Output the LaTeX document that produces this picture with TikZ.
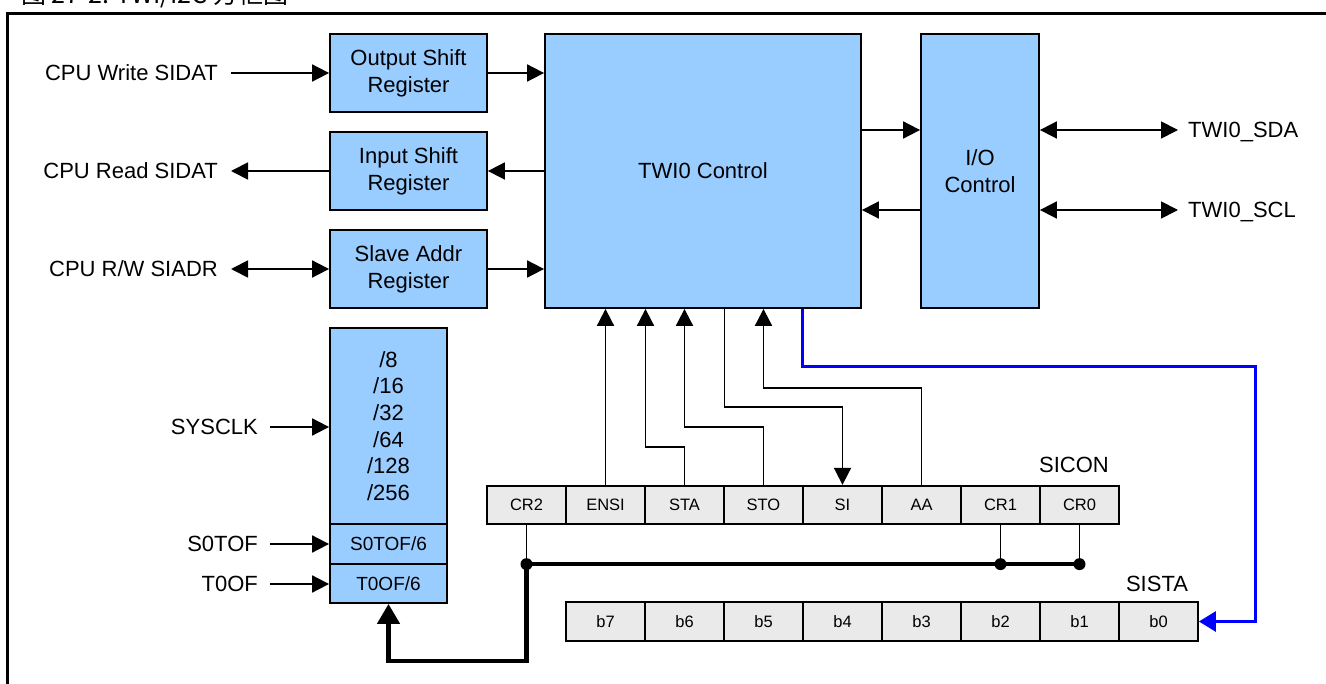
\documentclass[tikz,border=0pt]{standalone}
\usepackage{fontspec}
\setmainfont{Liberation Sans}
\newfontfamily\cjkfont{Noto Sans CJK SC}
\usepackage{tikz}
\usetikzlibrary{positioning, arrows.meta, calc}
\definecolor{boxblue}{RGB}{153,204,255}
\definecolor{cellgray}{RGB}{234,234,234}

\begin{document}
\begin{tikzpicture}[
    x=1pt, y=-1pt,
    font=\fontsize{22}{27}\selectfont,
    blk/.style={draw=black, line width=1.8pt, fill=boxblue, inner sep=0pt, align=center},
    cell/.style={draw=black, line width=1.8pt, fill=cellgray, minimum width=79pt, minimum height=38.5pt, inner sep=0pt, font=\fontsize{16.5}{20}\selectfont},
    lbl/.style={inner sep=0pt, text height=15.8pt, text depth=0pt},
    wire/.style={line width=1.8pt},
    sig/.style={wire, -{Triangle[length=17pt,width=17pt]}},
    dsig/.style={wire, {Triangle[length=17pt,width=17pt]}-{Triangle[length=17pt,width=17pt]}},
    stat/.style={draw=blue, line width=3pt, -{Triangle[length=17pt,width=20pt]}},
    bus/.style={line width=4.5pt},
    dot/.style={circle, fill=black, inner sep=0pt, minimum size=12pt}
]
\useasboundingbox (0,0) rectangle (1326,684);
% frame and caption
\draw[line width=3pt] (7,700) -- (7,13.5) -- (1340,13.5);
\node[anchor=base west, inner sep=0pt, font=\fontsize{25}{30}\selectfont] (cap) at (21,4) {\cjkfont 图 27-2: TWI/I2C 方框图};
% data registers
\node[blk, minimum width=157pt, minimum height=78pt] (osr) at (408.5,73) {Output Shift\\Register};
\node[blk, minimum width=157pt, minimum height=78pt] (isr) at (408.5,171) {Input Shift\\Register};
\node[blk, minimum width=157pt, minimum height=78pt] (sar) at (408.5,269) {Slave Addr\\Register};
% control blocks
\node[blk, minimum width=316pt, minimum height=274pt] (ctl) at (703,171) {TWI0 Control};
\node[blk, minimum width=118pt, minimum height=274pt] (ioc) at (980,171) {I/O\\Control};
% clock divider
\node[blk, minimum width=117pt, minimum height=196pt, font=\fontsize{22}{26.6}\selectfont] (div) at (388.5,426) {/8\\/16\\/32\\/64\\/128\\/256};
\node[blk, minimum width=117pt, minimum height=40pt, font=\fontsize{19}{22}\selectfont] (s0) at (388.5,544) {S0TOF/6};
\node[blk, minimum width=117pt, minimum height=39pt, font=\fontsize{19}{22}\selectfont] (t0) at (388.5,583.5) {T0OF/6};
% signal names
\node[lbl, anchor=east] (cpuw) at (218,73) {CPU Write SIDAT};
\node[lbl, anchor=east] (cpur) at (218,171) {CPU Read SIDAT};
\node[lbl, anchor=east] (cpurw) at (218,269) {CPU R/W SIADR};
\node[lbl, anchor=west] (sda) at (1188,130) {TWI0\_SDA};
\node[lbl, anchor=west] (scl) at (1188,210) {TWI0\_SCL};
\node[lbl, anchor=east] (sysclk) at (258,427) {SYSCLK};
\node[lbl, anchor=east] (s0tof) at (258,544) {S0TOF};
\node[lbl, anchor=east] (t0of) at (258,584) {T0OF};
% SICON and SISTA
\foreach \n [count=\i] in {CR2,ENSI,STA,STO,SI,AA,CR1,CR0}
  \node[cell] (sc\i) at ({487+79*(\i-0.5)},505) {\n};
\foreach \n [count=\i] in {b7,b6,b5,b4,b3,b2,b1,b0}
  \node[cell] (\n) at ({566+79*(\i-0.5)},621.5) {\n};
\node[lbl] (sicon) at (1074,465) {SICON};
\node[lbl] (sista) at (1157,584) {SISTA};
% data paths
\draw[sig, shorten <=13pt] (cpuw.east) -- (cpuw.east -| osr.west);
\draw[sig] (osr.east) -- (osr.east -| ctl.west);
\draw[sig] (isr.east -| ctl.west) -- (isr.east);
\draw[sig, shorten >=13pt] (isr.west) -- (isr.west -| cpur.east);
\draw[dsig, shorten >=13pt] (sar.west) -- (sar.west -| cpurw.east);
\draw[sig] (sar.east) -- (sar.east -| ctl.west);
\draw[sig] ([yshift=41pt]ctl.east) -- ([yshift=41pt]ioc.west);
\draw[sig] ([yshift=-39pt]ioc.west) -- ([yshift=-39pt]ctl.east);
\draw[dsig, shorten >=10pt] (sda.west -| ioc.east) -- (sda.west);
\draw[dsig, shorten >=10pt] (scl.west -| ioc.east) -- (scl.west);
% clock inputs
\draw[sig, shorten <=12pt] (sysclk.east) -- (sysclk.east -| div.west);
\draw[sig, shorten <=12pt] (s0tof.east) -- (s0tof.east -| s0.west);
\draw[sig, shorten <=12pt] (t0of.east) -- (t0of.east -| t0.west);
% control bits
\coordinate (jsta) at (645.5,447);
\coordinate (jsto) at (684.5,427);
\coordinate (jsi) at (724.5,407);
\coordinate (jaa) at (763.5,388);
\draw[sig] (sc2.north) -- (sc2.north |- ctl.south);
\draw[sig] (sc3.north) |- (jsta) -- (jsta |- ctl.south);
\draw[sig] (sc4.north) |- (jsto) -- (jsto |- ctl.south);
\draw[sig] (jsi |- ctl.south) -- (jsi) -| (sc5.north);
\draw[sig] (sc6.north) |- (jaa) -- (jaa |- ctl.south);
% status
\coordinate (jst) at (802,367);
\coordinate (jst2) at (1255,367);
\draw[stat] (jst |- ctl.south) -- (jst) -- (jst2) |- (b0.east);
% rate select
\coordinate (busl) at ([yshift=-39pt]sc1.south);
\coordinate (busb) at ([yshift=-97pt]busl);
\draw[wire] (sc1.south) -- (busl);
\draw[wire] (sc7.south) -- (sc7.south |- busl);
\draw[wire] (sc8.south) -- (sc8.south |- busl);
\draw[bus] (busl) -- (busl -| sc8.south);
\draw[bus, -{Triangle[length=20pt,width=22pt]}] (busl) -- (busb) -| (t0.south);
\foreach \c in {sc1,sc7,sc8} \node[dot] at (busl -| \c.south) {};
\end{tikzpicture}
\end{document}
